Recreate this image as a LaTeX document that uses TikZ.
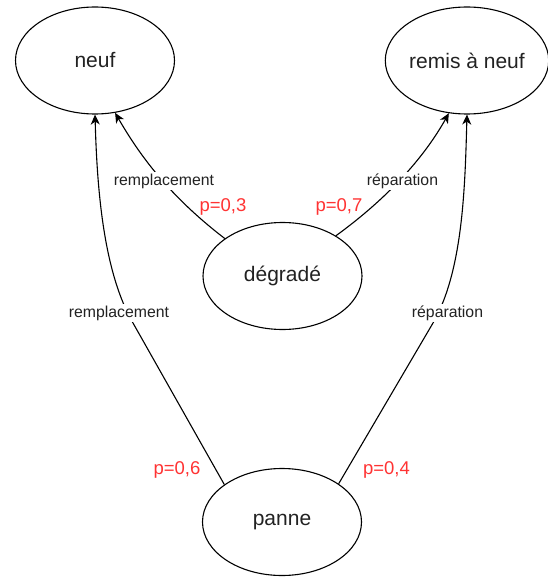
\documentclass[tikz,border=0pt]{standalone}
\usepackage{fontspec}
\setmainfont{Liberation Sans}
\usetikzlibrary{shapes.geometric,arrows.meta}
\definecolor{pred}{HTML}{FF3333}
\definecolor{txt}{HTML}{222222}
\begin{document}
\begin{tikzpicture}[x=1pt,y=-1pt,
  state/.style={ellipse,draw,line width=1.1pt,minimum width=159pt,minimum height=107pt,inner sep=0pt,font=\fontsize{21}{25}\selectfont,text=txt},
  trans/.style={line width=1.1pt,-{Stealth[length=10pt,width=9pt,inset=3pt]}},
  elabel/.style={fill=white,inner sep=2pt,font=\fontsize{15.8}{19}\selectfont,text=txt},
  prob/.style={inner sep=0pt,font=\fontsize{18.5}{22}\selectfont,text=pred}]
\useasboundingbox (0,0) rectangle (547,580);
\node[state] (neuf) at (95,60.5) {neuf};
\node[state] (remis) at (467,60.5) {remis à neuf};
\node[state] (deg) at (282.5,276) {dégradé};
\node[state] (panne) at (282,522) {panne};
\coordinate (wl) at (133,323);
\coordinate (wr) at (433,323);
\draw[trans] (deg.147) .. controls (168,195) and (139,154) .. (neuf.291);
\draw[trans] (deg.37) .. controls (392,195) and (426,154) .. (remis.251);
\draw[trans] (panne.147) -- (wl) .. controls (103,271) and (97,187) .. (neuf.270);
\draw[trans] (panne.34) -- (wr) .. controls (463,271) and (465,187) .. (remis.270);
\node[elabel] (l1) at (164,181) {remplacement};
\node[elabel] (l2) at (402.5,181) {réparation};
\node[elabel] (l3) at (119,313) {remplacement};
\node[elabel] (l4) at (447.5,313) {réparation};
\node[prob] (p1) at (223,207) {p=0,3};
\node[prob] (p2) at (339,207) {p=0,7};
\node[prob] (p3) at (177,470) {p=0,6};
\node[prob] (p4) at (386.5,470) {p=0,4};
\end{tikzpicture}
\end{document}
